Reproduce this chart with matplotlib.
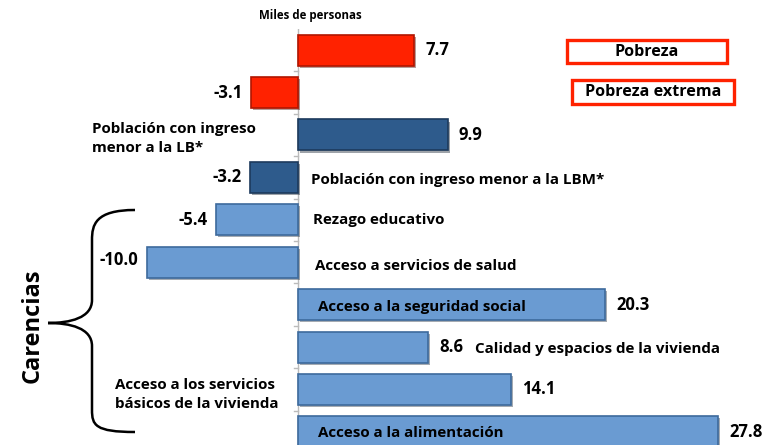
import matplotlib.pyplot as plt
import matplotlib.patheffects as pe
from matplotlib.patches import Rectangle, PathPatch
from matplotlib.path import Path

plt.rcParams['font.family'] = ['Open Sans', 'DejaVu Sans']

# data
categorias = ["Pobreza", "Pobreza extrema", "Población con ingreso menor a la LB*",
              "Población con ingreso menor a la LBM*", "Rezago educativo",
              "Acceso a servicios de salud", "Acceso a la seguridad social",
              "Calidad y espacios de la vivienda",
              "Acceso a los servicios básicos de la vivienda", "Acceso a la alimentación"]
valores = [7.7, -3.1, 9.9, -3.2, -5.4, -10.0, 20.3, 8.6, 14.1, 27.8]
colores = ["#FF2200", "#FF2200", "#2E5B8C", "#2E5B8C"] + ["#6A9BD2"] * 6
bordes = ["#B01500", "#B01500", "#1C3A5C", "#1C3A5C"] + ["#3D6A9C"] * 6

fig = plt.figure(figsize=(7.65, 4.45), dpi=100)
ax = fig.add_axes([0, 0, 1, 0.935])

pos = list(range(len(valores)))
bars = ax.barh(pos, valores, height=0.73, color=colores, edgecolor=bordes, linewidth=1.2)
for b in bars:
    b.set_path_effects([pe.SimplePatchShadow(offset=(1.5, -1.5), alpha=0.4), pe.Normal()])

ax.set_xlim(-19.70, 30.89)
ax.set_ylim(9.31, -0.5)
for s in ["top", "right", "bottom", "left"]:
    ax.spines[s].set_visible(False)
ax.set_xticks([])
ax.set_yticks([])
ax.axvline(0, color="#BBBBBB", lw=1, zorder=0)
for yb in [p + 0.5 for p in pos[:-1]]:
    ax.plot([-0.25, 0], [yb, yb], color="#BBBBBB", lw=1, zorder=0)

# value labels
vfs = 12
for i, v in enumerate(valores):
    if v >= 0:
        ax.text(v + 0.75, i, f"{v:.1f}", ha="left", va="center", fontsize=vfs, fontweight="bold")
    else:
        ax.text(v - 0.55, i - (0.05 if i == 5 else 0), f"{v:.1f}", ha="right", va="center",
                fontsize=vfs, fontweight="bold")

fs = 10.9
ax.text(-13.6, 2.08, "Población con ingreso\nmenor a la LB*", ha="left", va="center",
        fontsize=fs, fontweight="bold", linespacing=1.45)
ax.text(0.85, 3.07, categorias[3], ha="left", va="center", fontsize=fs, fontweight="bold")
ax.text(1.0, 4.0, categorias[4], ha="left", va="center", fontsize=fs, fontweight="bold")
ax.text(1.1, 5.1, categorias[5], ha="left", va="center", fontsize=fs, fontweight="bold")
ax.text(1.3, 6.05, categorias[6], ha="left", va="center", fontsize=fs, fontweight="bold")
ax.text(11.7, 7.05, categorias[7], ha="left", va="center", fontsize=fs, fontweight="bold")
ax.text(-12.1, 8.12, "Acceso a los servicios\nbásicos de la vivienda", ha="left", va="center",
        fontsize=fs, fontweight="bold", linespacing=1.45)
ax.text(1.3, 9.02, categorias[9], ha="left", va="center", fontsize=fs, fontweight="bold")

# legend-like boxes
def px(x, y):
    return (x / 765, 1 - y / 445)

for (x0, y0, x1, y1), txt in [((567, 40, 727, 63), categorias[0]),
                              ((572, 80, 734, 104), categorias[1])]:
    fig.patches.append(Rectangle(px(x0, y1), (x1 - x0) / 765, (y1 - y0) / 445,
                                 transform=fig.transFigure, fc="white", ec="#FF2200", lw=2.4))
    cx, cy = px((x0 + x1) / 2, (y0 + y1) / 2)
    fig.text(cx, cy, txt, ha="center", va="center", fontsize=11.6, fontweight="bold")

fig.text(310 / 765, 1 - 16 / 445, "Miles de personas", ha="center", va="center",
         fontsize=8.3, fontweight="bold")

fig.text(33 / 765, 1 - 326 / 445, "Carencias", rotation=90, ha="center", va="center",
         fontsize=17, fontweight="bold")

# brace
verts = [px(135, 210), px(95, 210), px(92, 225), px(92, 240),
         px(92, 300),
         px(92, 318), px(70, 323), px(48, 323),
         px(70, 323), px(92, 328), px(92, 346),
         px(92, 410),
         px(92, 425), px(95, 432), px(135, 432)]
codes = [Path.MOVETO, Path.CURVE4, Path.CURVE4, Path.CURVE4,
         Path.LINETO,
         Path.CURVE4, Path.CURVE4, Path.CURVE4,
         Path.CURVE4, Path.CURVE4, Path.CURVE4,
         Path.LINETO,
         Path.CURVE4, Path.CURVE4, Path.CURVE4]
fig.patches.append(PathPatch(Path(verts, codes), transform=fig.transFigure, fc="none",
                             ec="black", lw=1.8))

fig.savefig("out.png", dpi=100)
